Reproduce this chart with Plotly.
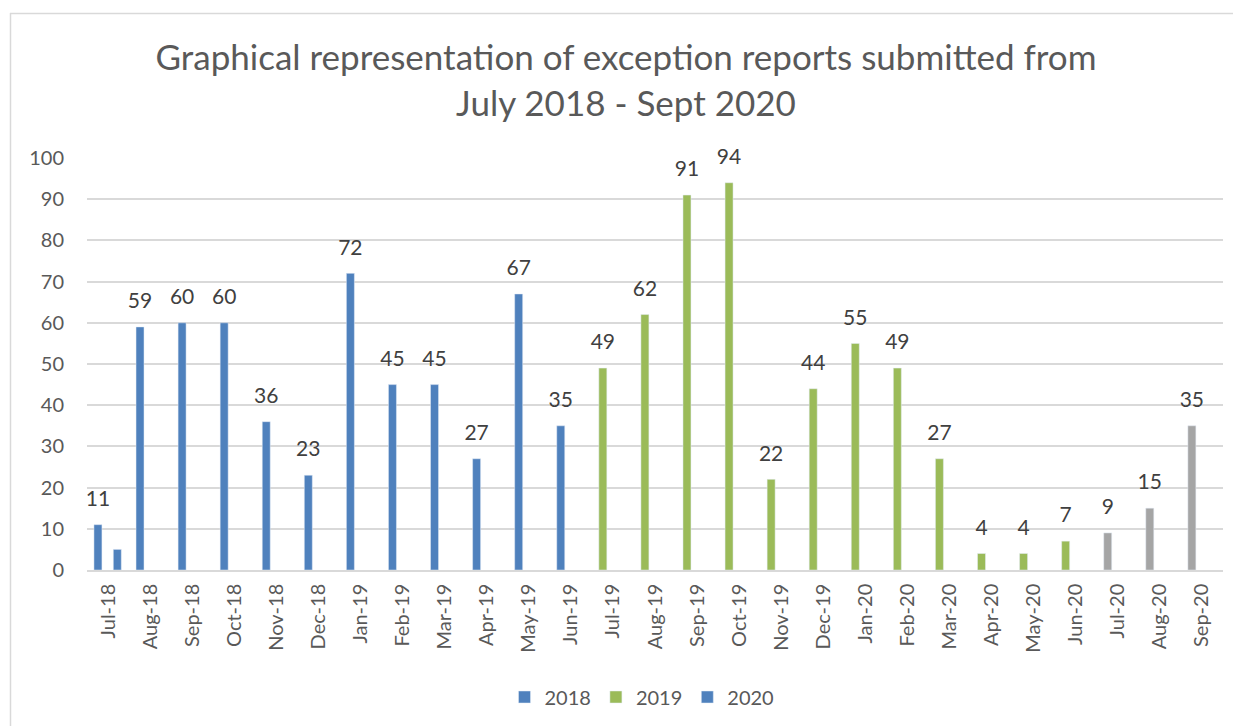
import plotly.graph_objects as go

# months on the category axis
months = ['Jul-18', 'Aug-18', 'Sep-18', 'Oct-18', 'Nov-18', 'Dec-18',
          'Jan-19', 'Feb-19', 'Mar-19', 'Apr-19', 'May-19', 'Jun-19',
          'Jul-19', 'Aug-19', 'Sep-19', 'Oct-19', 'Nov-19', 'Dec-19',
          'Jan-20', 'Feb-20', 'Mar-20', 'Apr-20', 'May-20', 'Jun-20',
          'Jul-20', 'Aug-20', 'Sep-20']

months_2018 = months[0:12]
counts_2018 = [11, 59, 60, 60, 36, 23, 72, 45, 45, 27, 67, 35]

months_2019 = months[12:24]
counts_2019 = [49, 62, 91, 94, 22, 44, 55, 49, 27, 4, 4, 7]

months_2020 = months[24:27]
counts_2020 = [9, 15, 35]

# the odd extra bar of the "2020" series sitting next to Jul-18
months_2020_extra = ['Jul-18']
counts_2020_extra = [5]

y_ticks = [0, 10, 20, 30, 40, 50, 60, 70, 80, 90, 100]

BLUE = '#4F81BD'
GREEN = '#9BBB59'
GREY = '#A5A5A5'
FONT = 'Lato'

# layout in pixels (page body has an 8px margin, so screen px = figure px + 8)
PAD = 8
W, H = 1241, 726
L, R, T, B = 87 - PAD, 18 + PAD, 158 - PAD, 156 + PAD
pw, ph = W - L - R, H - T - B


def xp(px):
    # screen px -> paper x
    return (px - PAD - L) / pw


def yp(py):
    # screen px -> paper y
    return (H - B - (py - PAD)) / ph


def pos(labels):
    return [months.index(m) for m in labels]


bar_w = 0.19
main_shift = -0.24   # bar centre relative to the month slot
extra_shift = 0.22
label_font = dict(family=FONT, size=21, color='#404040')

fig = go.Figure()


def add_series(labels, values, name, color, shift, legend=True, labelled=True):
    x = pos(labels)
    fig.add_trace(go.Bar(x=x, y=values, name=name, marker_color=color,
                         width=bar_w, offset=shift - bar_w / 2,
                         showlegend=legend, hoverinfo='y'))
    if labelled:
        # invisible markers push the value labels up off the bar tops
        fig.add_trace(go.Scatter(x=[v + shift for v in x], y=values, mode='markers+text',
                                 text=values, textposition='top center', textfont=label_font,
                                 marker=dict(size=20, color='rgba(0,0,0,0)'),
                                 showlegend=False, hoverinfo='skip', cliponaxis=False))


add_series(months_2018, counts_2018, '2018', BLUE, main_shift)
add_series(months_2019, counts_2019, '2019', GREEN, main_shift)
add_series(months_2020_extra, counts_2020_extra, '2020', BLUE, extra_shift, labelled=False)
add_series(months_2020, counts_2020, '2020 ', GREY, main_shift, legend=False)

fig.update_layout(
    width=W, height=H,
    margin=dict(l=L, r=R, t=T, b=B, autoexpand=False),
    paper_bgcolor='white', plot_bgcolor='white',
    barmode='overlay',
    font=dict(family=FONT, size=20, color='#595959'),
    title=dict(
        text='Graphical representation of exception reports submitted from<br>July 2018 - Sept 2020',
        font=dict(family=FONT, size=35, color='#595959'),
        x=(626 - PAD) / W, xanchor='center', xref='container',
        y=1 - 62 / H, yanchor='top', yref='container',
    ),
    legend=dict(
        orientation='h', x=xp(642), xanchor='center', y=yp(697), yanchor='middle',
        font=dict(family=FONT, size=20, color='#595959'),
        traceorder='normal', itemwidth=30,
    ),
    xaxis=dict(
        range=[-0.5, len(months) - 0.5],
        tickvals=list(range(len(months))), ticktext=months,
        tickangle=-90, showgrid=False, zeroline=False,
        showline=True, linecolor='#D9D9D9', linewidth=1.5,
        ticks='', ticklabelstandoff=4,
        tickfont=dict(family=FONT, size=20, color='#595959'),
    ),
    yaxis=dict(
        range=[0, 100], tickvals=y_ticks, showgrid=True, gridcolor='#D9D9D9', gridwidth=1.5,
        zeroline=False, ticks='', ticklabelstandoff=22,
        tickfont=dict(family=FONT, size=20, color='#595959'),
    ),
    shapes=[
        dict(type='line', xref='paper', yref='paper', x0=xp(10.5), x1=xp(10.5), y0=yp(13), y1=yp(760),
             line=dict(color='#D9D9D9', width=1.5)),
        dict(type='line', xref='paper', yref='paper', x0=xp(10), x1=xp(1280), y0=yp(13.5), y1=yp(13.5),
             line=dict(color='#D9D9D9', width=1.5)),
    ],
)

fig.write_html('out.html')
